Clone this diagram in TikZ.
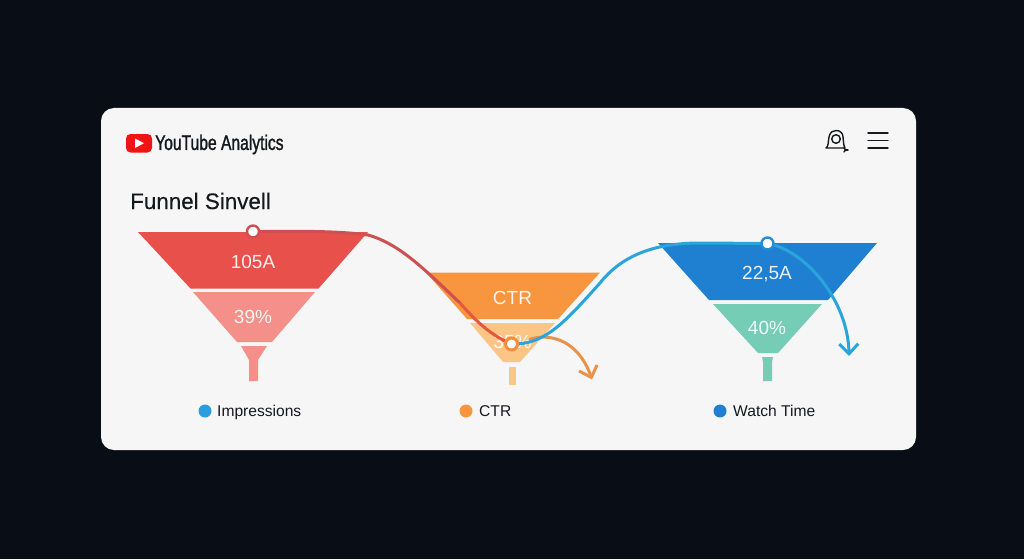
\documentclass[tikz,border=0pt]{standalone}
\usepackage{fontspec}
\setmainfont{Liberation Sans}
\newfontfamily\logofont[FakeStretch=0.745,FakeBold=1.3]{Liberation Sans}
\newfontfamily\titlefont[FakeBold=0.35]{Liberation Sans}
\usetikzlibrary{arrows.meta}
\definecolor{bgdark}{HTML}{090D15}
\definecolor{cardc}{HTML}{F6F6F6}
\definecolor{inkc}{HTML}{16181D}
\definecolor{redA}{HTML}{E8504B}
\definecolor{redB}{HTML}{F58F89}
\definecolor{oraA}{HTML}{F7963F}
\definecolor{oraB}{HTML}{FBC586}
\definecolor{bluA}{HTML}{1F7FD0}
\definecolor{teaB}{HTML}{75CDB5}
\definecolor{curR}{HTML}{CF5050}
\definecolor{curO}{HTML}{E8573A}
\definecolor{curB}{HTML}{2AA5DC}
\definecolor{curA}{HTML}{E8934C}
\definecolor{dotB}{HTML}{2A9FE0}
\definecolor{ytred}{HTML}{F01414}
\tikzset{
  x=1pt,y=-1pt,
  fval/.style={text=white,font=\fontsize{19}{19}\selectfont,inner sep=0pt,opacity=.9},
  legend/.style={text=inkc,font=\fontsize{15.6}{16}\selectfont,inner sep=0pt,anchor=base west},
  dotm/.style={circle,fill=#1,minimum size=13pt,inner sep=0pt},
  pin/.style={circle,draw=#1,fill=white,line width=2.4pt,minimum size=12pt,inner sep=0pt},
  curve/.style={line width=3pt,line cap=round},
  tip/.style={-{Straight Barb[length=10pt,width=19pt,line width=3pt]}},
  icon/.style={draw=inkc,line width=1.4pt,line cap=round,line join=round},
}
\begin{document}
\begin{tikzpicture}
\useasboundingbox (0,0) rectangle (1024,559);
\fill[bgdark] (0,0) rectangle (1024,559);
\fill[cardc,rounded corners=13pt] (101,108) rectangle (916,450);
% logo
\fill[ytred,rounded corners=4.5pt] (126,134) rectangle (152,152.5);
\fill[white] (135,138.5) -- (144,143.2) -- (135,148) -- cycle;
\node[anchor=west,inner sep=0pt,text=inkc,font=\logofont\fontsize{21}{21}\selectfont] (logo) at (155,144.5) {YouTube Analytics};
% icons
\draw[icon] (826,148) .. controls (829,146) and (828,141) .. (829,137) .. controls (830,132) and (833,130.5) .. (836,130.5) .. controls (840,130.5) and (843,133) .. (843,137) .. controls (843.5,141) and (843.5,146) .. (845,148) -- cycle;
\draw[icon] (836,139) circle (4.3);
\draw[icon] (844,148) .. controls (846,149) and (846,151) .. (844,152);
\draw[icon] (845,150) -- (848,150);
\foreach \yy in {133,140.7,148}{\draw[icon] (868,\yy) -- (888,\yy);}
% title
\node[anchor=west,inner sep=0pt,text=inkc,font=\titlefont\fontsize{22.4}{23}\selectfont] (title) at (130,201) {Funnel Sinvell};
% funnel 1
\fill[redA] (138,232) -- (368,232) -- (318.5,288.5) -- (190.5,288.5) -- cycle;
\fill[redB] (193,292) -- (315,292) -- (272,342) -- (237,342) -- cycle;
\fill[redB] (241,346) -- (267,346) -- (258,360) -- (258,381) -- (249,381) -- (249,360) -- cycle;
\node[fval] (fa) at (253,262) {105A};
\node[fval] (fb) at (253,317) {39\%};
% funnel 2
\fill[oraA] (426,272.5) -- (600,272.5) -- (558,319) -- (467,319) -- cycle;
\fill[oraB] (470,323) -- (555,323) -- (520,362) -- (503,362) -- cycle;
\fill[oraB] (509,367) rectangle (516,385);
\node[fval] (fc) at (512.5,298) {CTR};
\node[fval] (fd) at (512.5,342) {35\%};
% funnel 3
\fill[bluA] (658,243) -- (877,243) -- (828,300) -- (709,300) -- cycle;
\fill[teaB] (713,304) -- (822,304) -- (778,353) -- (758,353) -- cycle;
\fill[teaB] (762,357) -- (773,357) -- (772,362) -- (772,381) -- (763,381) -- (763,362) -- cycle;
\node[fval] (fe) at (767,274) {22,5A};
\node[fval] (ff) at (767,328) {40\%};
% connector anchors
\coordinate (ca) at (253,231.5);
\coordinate (cc) at (767.5,243.5);
\coordinate (cb) at (511.5,344);
\coordinate (ra) at (368,235);
\coordinate (rb) at (460,303);
\coordinate (ba) at (600,283);
\coordinate (bb) at (700,243);
\coordinate (oa) at (530,339);
\coordinate (oe) at (592,379.5);
\coordinate (be) at (849,356);
% curves
\draw[curve,curR] (ca) .. controls (300,231) and (340,231) .. (ra) .. controls (400,244) and (425,270) .. (rb);
\draw[curve,curO] (rb) .. controls (475,320) and (490,335) .. (cb);
\draw[curve,curA,tip] (oa) .. controls (560,331) and (582,350) .. (oe);
\draw[curve,curB] (cb) .. controls (545,345) and (565,322) .. (ba) .. controls (620,258) and (650,243) .. (bb) -- (cc);
\draw[curve,curB,tip] (cc) .. controls (805,250) and (848,300) .. (be);
\node[pin=curR] (pa) at (ca) {};
\node[pin=bluA!60!curB] (pc) at (cc) {};
\node[pin=oraA!85!curO,line width=3pt,minimum size=12pt] (pb) at (cb) {};
% legend
\node[dotm=dotB] (la) at (205,411) {};
\node[legend] (lta) at (217,416.5) {Impressions};
\node[dotm=oraA] (lb) at (466,411) {};
\node[legend] (ltb) at (479,416.5) {CTR};
\node[dotm=bluA] (lc) at (720,411) {};
\node[legend] (ltc) at (733,416.5) {Watch Time};
\end{tikzpicture}
\end{document}
